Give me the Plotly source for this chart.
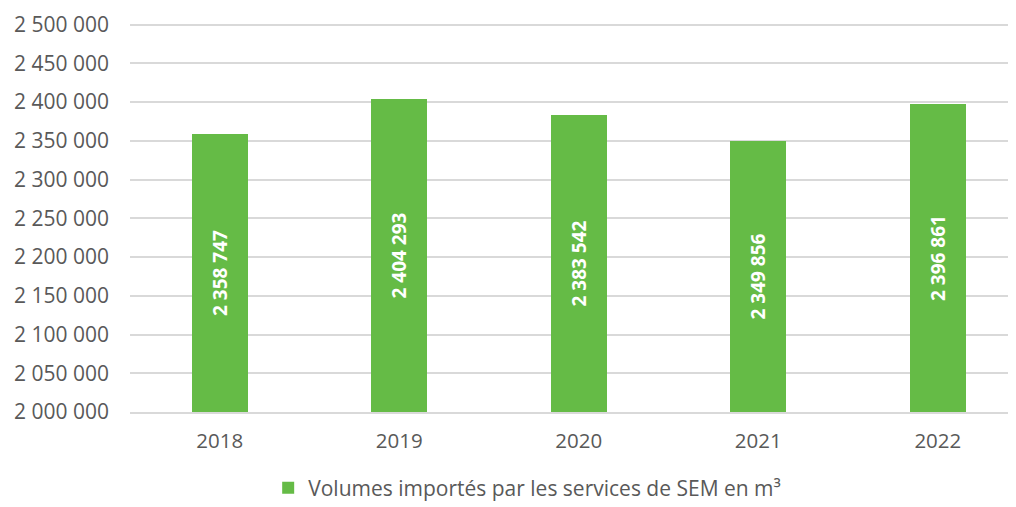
import plotly.graph_objects as go

years = ["2018", "2019", "2020", "2021", "2022"]
volumes = [2358747, 2404293, 2383542, 2349856, 2396861]
series_name = "Volumes importés par les services de SEM en m³"
axis_min = 2000000
axis_max = 2500000

GREEN = "#65BB46"
FONT = "Open Sans"

fig = go.Figure()
fig.add_trace(go.Bar(
    x=years, y=[v - axis_min for v in volumes], base=axis_min,
    customdata=volumes, name=series_name,
    marker=dict(color=GREEN, line=dict(width=0)),
    width=0.312,
    texttemplate="<b>%{customdata:,d}</b>",
    hovertemplate="%{x}: %{customdata:,d}<extra></extra>",
    textposition="inside",
    insidetextanchor="middle",
    textangle=-90,
    textfont=dict(color="white", size=19, family=FONT),
    constraintext="none",
    showlegend=True,
))

fig.update_layout(
    width=1016, height=507,
    margin=dict(l=122, r=0, t=14.5, b=103, autoexpand=False),
    paper_bgcolor="white", plot_bgcolor="white",
    separators=". ",
    font=dict(family=FONT, color="#595959", size=20),
    bargap=0,
    showlegend=True,
    legend=dict(
        orientation="h", xref="container", yref="container",
        x=0.511, xanchor="center", y=0.053, yanchor="middle",
        font=dict(size=21, color="#595959"),
    ),
    xaxis=dict(
        type="category", range=[-0.5, 4.48], automargin=False,
        showgrid=False, showline=True, linecolor="#D9D9D9", linewidth=2,
        ticks="", tickfont=dict(size=20.5), ticklabelstandoff=9,
    ),
    yaxis=dict(
        range=[axis_min, axis_max + 2000], tick0=axis_min, dtick=50000, tickformat=",d",
        automargin=False,
        showgrid=True, gridcolor="#D9D9D9", gridwidth=1.5,
        zeroline=False, showline=False, ticks="",
        tickfont=dict(size=21), ticklabelstandoff=20,
    ),
)

fig.write_html("out.html")
